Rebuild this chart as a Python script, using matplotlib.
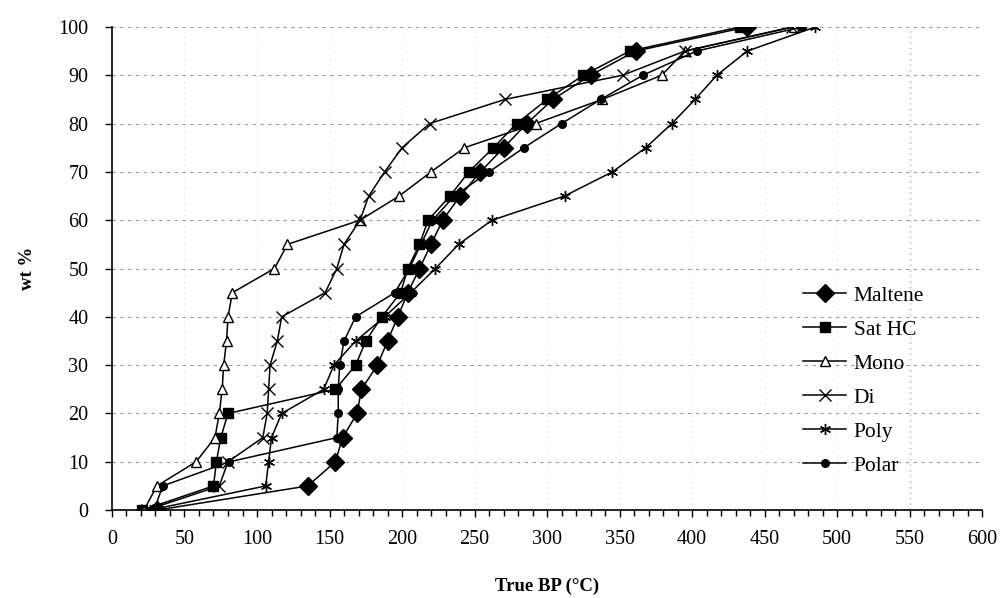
import numpy as np
import matplotlib.pyplot as plt
from matplotlib.ticker import MultipleLocator

plt.rcParams['font.family'] = ['Liberation Serif', 'DejaVu Serif']

# wt % levels (same for every fraction)
wt = [0, 5, 10, 15, 20, 25, 30, 35, 40, 45, 50, 55, 60, 65, 70, 75, 80, 85, 90, 95, 100]

# true boiling point (deg C)
maltene = [31, 135, 154, 159, 169, 172, 183, 190, 197, 204, 212, 220, 228, 240, 254, 270, 286, 304, 330, 361, 438]
sat_hc = [21, 70, 72, 75, 80, 154, 168, 175, 186, 199, 204, 212, 218, 233, 246, 263, 279, 300, 325, 357, 433]
mono = [22, 31, 58, 71, 74, 76, 77, 79, 80, 83, 112, 121, 171, 198, 220, 243, 292, 338, 379, 395, 470]
di = [24, 74, 80, 104, 107, 108, 109, 114, 117, 147, 155, 160, 171, 177, 188, 200, 219, 271, 352, 395, 469]
poly = [26, 106, 108, 110, 117, 146, 153, 168, 188, 206, 223, 239, 262, 312, 345, 368, 386, 402, 417, 438, 485]
polar = [29, 35, 81, 155, 156, 156, 157, 160, 168, 195, 205, 213, 221, 236, 260, 284, 310, 337, 366, 403, 476]

names = ['Maltene', 'Sat HC', 'Mono', 'Di', 'Poly', 'Polar']
series = [maltene, sat_hc, mono, di, poly, polar]
styles = [
    dict(marker='D', ms=9, mfc='black', mec='black'),
    dict(marker='s', ms=6.5, mfc='black', mec='black'),
    dict(marker='^', ms=7, mfc='white', mec='black', mew=1),
    dict(marker='x', ms=8, mec='black', mew=1),
    dict(marker=(6, 2, 0), ms=8, mec='black', mew=1),
    dict(marker='o', ms=5.5, mfc='black', mec='black'),
]

fig = plt.figure(figsize=(10.05, 5.98), dpi=100)
ax = fig.add_axes([0.1114, 0.147, 0.866, 0.808])

for nm, xs, st in zip(names, series, styles):
    ax.plot(xs, wt, color='black', lw=1.1, label=nm, **st)

ax.set_xlim(0, 600)
ax.set_ylim(0, 100)
ax.xaxis.set_major_locator(MultipleLocator(50))
ax.xaxis.set_minor_locator(MultipleLocator(10))
ax.yaxis.set_major_locator(MultipleLocator(10))

ax.grid(axis='y', which='major', color='#9a9a9a', ls=(0, (3, 4)), lw=0.8)
ax.grid(axis='x', which='major', color='#dddddd', ls=(0, (1, 4)), lw=0.8)
ax.axvline(550, color='#888888', ls=(0, (1, 3)), lw=1, zorder=0)

for s in ['top', 'right']:
    ax.spines[s].set_visible(False)
ax.spines['left'].set_linewidth(1.2)
ax.spines['bottom'].set_linewidth(1.2)

ax.tick_params(axis='both', which='major', direction='out', length=5, width=1, labelsize=14.5, pad=9)
ax.tick_params(axis='x', which='minor', direction='out', length=4, width=1)
ax.tick_params(axis='y', pad=12)

ax.set_xlabel('True BP (°C)', fontsize=13.5, fontweight='bold', labelpad=21)
ax.set_ylabel('wt %', fontsize=13.5, fontweight='bold', labelpad=16)

ax.legend(loc='upper left', bbox_to_anchor=(0.772, 0.505), frameon=False, fontsize=15.5,
          handlelength=2.0, labelspacing=0.65, handletextpad=0.35)

fig.savefig('out.png', dpi=100)
